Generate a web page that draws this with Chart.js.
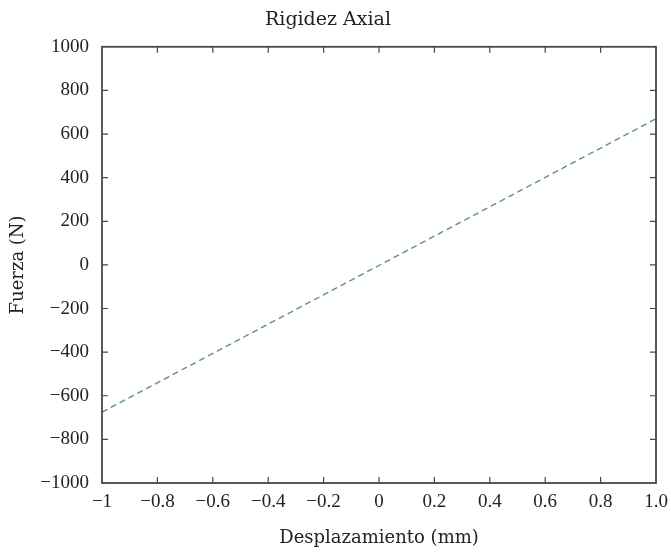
<!DOCTYPE html>
<html>
<head>
<meta charset="utf-8">
<script src="https://cdn.jsdelivr.net/npm/chart.js@4/dist/chart.umd.min.js"></script>
<style>
  html, body { margin: 0; padding: 0; background: #ffffff; }
  #wrap { width: 671px; height: 552px; }
</style>
</head>
<body>
<div id="wrap"><canvas id="c" width="671" height="552"></canvas></div>
<script>
// ---- data ----
const displacement = [-1, 1];          // mm
const force = [-675, 670];              // N
const xTickRange = { min: -1, max: 1, step: 0.2 };
const yTickRange = { min: -1000, max: 1000, step: 200 };
const chartTitle = 'Rigidez Axial';
const xTitle = 'Desplazamiento (mm)';
const yTitle = 'Fuerza (N)';

const points = displacement.map((x, i) => ({ x: x, y: force[i] }));

const minus = v => (v < 0 ? '\u2212' + String(Math.abs(v)) : String(v));
const fmtX = v => {
  const r = Math.round(v * 10) / 10;
  if (r === xTickRange.max) return r.toFixed(1);
  return minus(r);
};
const fmtY = v => minus(Math.round(v));

const frameColor = '#474747';
const textColor = '#222222';

const frameTicks = {
  id: 'frameTicks',
  afterDatasetsDraw(chart) {
    const { ctx, chartArea: a, scales } = chart;
    const len = 6;
    ctx.save();
    ctx.strokeStyle = frameColor;
    ctx.lineWidth = 1.2;
    ctx.beginPath();
    scales.x.ticks.forEach(t => {
      const px = scales.x.getPixelForValue(t.value);
      if (Math.abs(px - a.left) < 1 || Math.abs(px - a.right) < 1) return;
      ctx.moveTo(px, a.bottom); ctx.lineTo(px, a.bottom - len);
      ctx.moveTo(px, a.top); ctx.lineTo(px, a.top + len);
    });
    scales.y.ticks.forEach(t => {
      const py = scales.y.getPixelForValue(t.value);
      if (Math.abs(py - a.top) < 1 || Math.abs(py - a.bottom) < 1) return;
      ctx.moveTo(a.left, py); ctx.lineTo(a.left + len, py);
      ctx.moveTo(a.right, py); ctx.lineTo(a.right - len, py);
    });
    ctx.stroke();
    ctx.lineWidth = 1.8;
    ctx.strokeRect(a.left, a.top, a.right - a.left, a.bottom - a.top);
    ctx.restore();
  }
};

new Chart(document.getElementById('c'), {
  type: 'scatter',
  data: {
    datasets: [{
      data: points,
      showLine: true,
      borderColor: '#5e8f8c',
      borderWidth: 1.4,
      borderDash: [6, 4],
      pointRadius: 0,
      fill: false
    }]
  },
  options: {
    responsive: false,
    animation: false,
    devicePixelRatio: 1,
    layout: { padding: { left: 0, right: 15, top: 0, bottom: 0 } },
    plugins: {
      legend: { display: false },
      tooltip: { enabled: false },
      title: {
        display: true,
        text: chartTitle,
        color: textColor,
        font: { family: 'DejaVu Serif', size: 19, weight: 'normal' },
        padding: { top: 9, bottom: 15 }
      }
    },
    scales: {
      x: {
        type: 'linear',
        min: xTickRange.min, max: xTickRange.max,
        afterFit: s => { s.height = 69; s.paddingLeft = 0; s.paddingRight = 0; },
        grid: { display: false, drawTicks: false },
        border: { display: false },
        ticks: {
          stepSize: xTickRange.step,
          color: textColor,
          padding: 8,
          maxRotation: 0,
          autoSkip: false,
          font: { family: 'Liberation Serif', size: 19 },
          callback: v => fmtX(v)
        },
        title: {
          display: true, text: xTitle, color: textColor,
          font: { family: 'DejaVu Serif', size: 18 },
          padding: { top: 0, bottom: 3 }
        }
      },
      y: {
        type: 'linear',
        min: yTickRange.min, max: yTickRange.max,
        afterFit: s => { s.width = 102; s.paddingTop = 0; s.paddingBottom = 0; },
        grid: { display: false, drawTicks: false },
        border: { display: false },
        ticks: {
          stepSize: yTickRange.step,
          color: textColor,
          padding: 13,
          autoSkip: false,
          font: { family: 'Liberation Serif', size: 19 },
          callback: v => fmtY(v)
        },
        title: {
          display: true, text: yTitle, color: textColor,
          font: { family: 'DejaVu Serif', size: 18 },
          padding: { top: 8, bottom: 0 }
        }
      }
    }
  },
  plugins: [frameTicks]
});
</script>
</body>
</html>
